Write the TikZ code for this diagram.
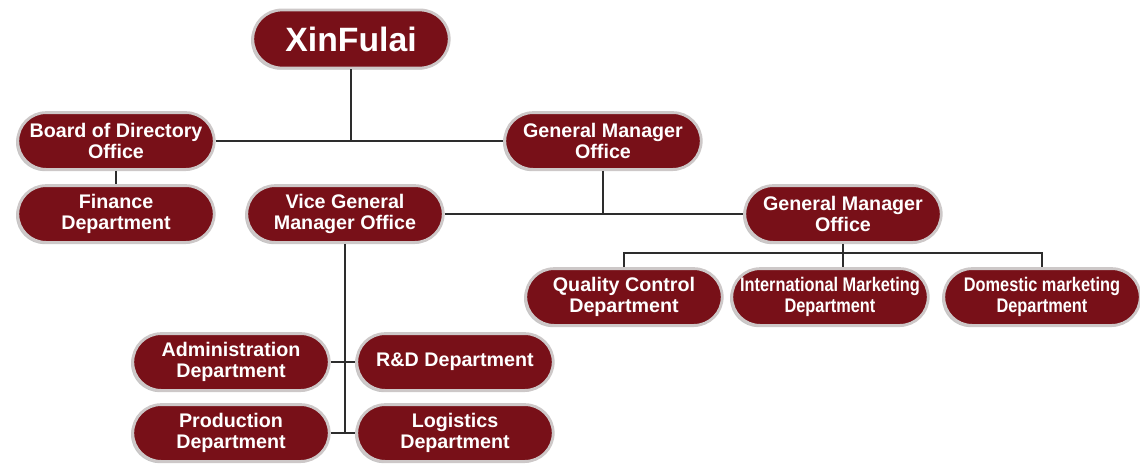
\documentclass[tikz,border=0pt]{standalone}
\usepackage{fontspec}
\setmainfont{Liberation Sans}
\newfontfamily\narrowsans[FakeStretch=0.83]{Liberation Sans}
\usetikzlibrary{positioning,shapes.misc,shadows}
\definecolor{wine}{RGB}{120,16,24}
\definecolor{rim}{RGB}{205,200,200}
\definecolor{wire}{RGB}{45,45,45}

\begin{document}
\begin{tikzpicture}[x=0.025cm, y=-0.025cm,
  unit/.style={rounded rectangle, fill=wine, draw=rim, line width=2pt,
    text=white, align=center, inner sep=2pt,
    font=\fontsize{14}{14.5}\selectfont\bfseries,
    minimum width=5.05cm, minimum height=1.42cm,
    drop shadow={shadow xshift=-1.2pt, shadow yshift=-1.2pt, opacity=0.45}},
  narrow/.style={font=\fontsize{14}{14.5}\selectfont\narrowsans\bfseries},
  wire/.style={draw=wire, line width=1.5pt}]

  \useasboundingbox[fill=white] (0,0) rectangle (1140,463);

  % top of the tree
  \node[unit, minimum height=1.45cm, font=\fontsize{24}{26}\selectfont\bfseries] (xinfulai) at (351,39) {XinFulai};
  \node[unit] (board) at (116,141) {Board of Directory\\Office};
  \node[unit] (gmoffice) at (603,141) {General Manager\\Office};

  % second row
  \node[unit] (finance) at (116,214) {Finance\\Department};
  \node[unit] (vicegm) at (345,214) {Vice General\\Manager Office};
  \node[unit] (gmsales) at (843,214) {General Manager\\Office};

  % sales side
  \node[unit] (quality) at (624,297) {Quality Control\\Department};
  \node[unit, narrow] (intl) at (830,297) {International Marketing\\Department};
  \node[unit, narrow] (domestic) at (1042,297) {Domestic marketing\\Department};

  % under the vice general manager
  \node[unit] (admin) at (231,362) {Administration\\Department};
  \node[unit] (rnd) at (455,362) {R\&D Department};
  \node[unit] (production) at (231,433) {Production\\Department};
  \node[unit] (logistics) at (455,433) {Logistics\\Department};

  % connectors
  \draw[wire] (xinfulai.south) -- (xinfulai.south |- board.east);
  \draw[wire] (board.east) -- (gmoffice.west);
  \draw[wire] (board.south) -- (finance.north);
  \draw[wire] (gmoffice.south) -- (gmoffice.south |- vicegm.east);
  \draw[wire] (vicegm.east) -- (gmsales.west);

  \path (gmsales.south) ++(0,9) coordinate (salesbus);
  \draw[wire] (gmsales.south) -- (salesbus) -- (salesbus |- intl.north);
  \draw[wire] (quality.north) |- (salesbus) -| (domestic.north);

  \draw[wire] (vicegm.south) -- (vicegm.south |- production.east);
  \draw[wire] (admin.east) -- (rnd.west);
  \draw[wire] (production.east) -- (logistics.west);

\end{tikzpicture}
\end{document}
